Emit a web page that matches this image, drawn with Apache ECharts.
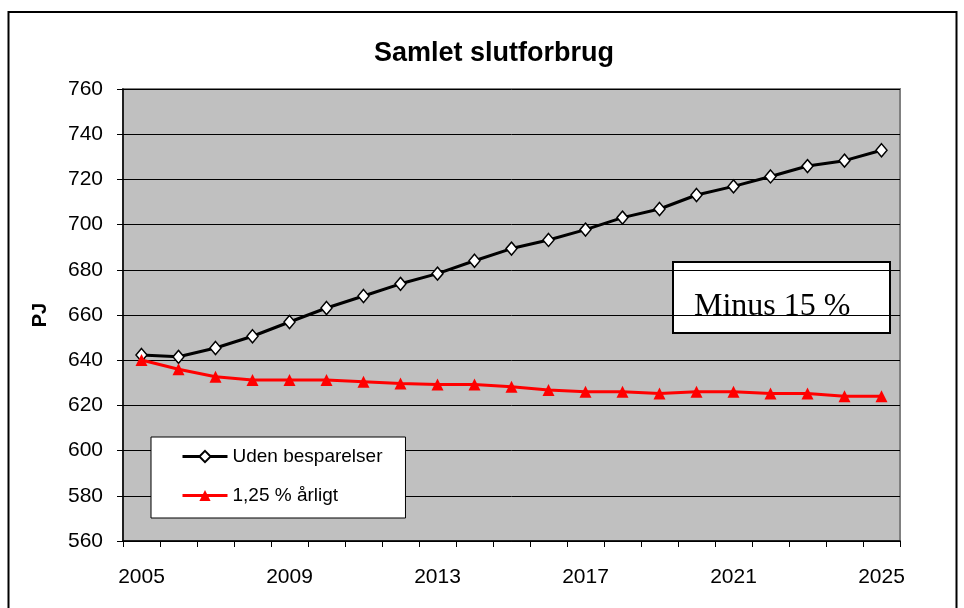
<!DOCTYPE html>
<html>
<head>
<meta charset="utf-8">
<script src="https://cdn.jsdelivr.net/npm/echarts@6/dist/echarts.min.js"></script>
<style>
  html, body { margin: 0; padding: 0; background: #fff; }
  #chart { width: 964px; height: 608px; }
</style>
</head>
<body>
<div id="chart"></div>
<script>
// år
const years = [
  '2005', '2006', '2007', '2008', '2009', '2010', '2011',
  '2012', '2013', '2014', '2015', '2016', '2017', '2018',
  '2019', '2020', '2021', '2022', '2023', '2024', '2025'
]
// Uden besparelser (PJ)
const udenBesparelser = [
  642.3, 641.5, 645.4, 650.6, 656.9, 663.1, 668.4,
  673.8, 678.3, 684.0, 689.4, 693.2, 697.8, 703.1,
  706.9, 713.1, 716.9, 721.3, 725.9, 728.3, 732.9
]
// 1,25 % årligt (PJ)
const aarligt = [
  640.1, 636.0, 632.7, 631.2, 631.2, 631.2, 630.5,
  629.7, 629.3, 629.3, 628.2, 626.8, 626.0, 626.0,
  625.3, 626.0, 626.0, 625.3, 625.3, 624.0, 624.0
]
const seriesNames = ['Uden besparelser', '1,25 % årligt']

const chart = echarts.init(document.getElementById('chart'))

const option = {
  animation: false,
  backgroundColor: '#fff',
  title: {
    text: 'Samlet slutforbrug',
    left: 489,
    top: 35,
    textAlign: 'center',
    textStyle: {
      fontFamily: 'Liberation Sans, Arial, sans-serif',
      fontSize: 27,
      fontWeight: 'bold',
      color: '#000'
    }
  },
  legend: {
    data: seriesNames,
    orient: 'vertical',
    left: 151,
    top: 437,
    padding: [10, 23, 13, 30],
    itemGap: 20,
    itemWidth: 45,
    itemHeight: 14,
    backgroundColor: '#fff',
    borderColor: '#000',
    borderWidth: 1,
    borderRadius: 0,
    lineStyle: { width: 3 },
    textStyle: {
      fontFamily: 'Liberation Sans, Arial, sans-serif',
      fontSize: 19,
      color: '#000'
    }
  },
  grid: {
    left: 123,
    right: 64,
    top: 89,
    bottom: 67,
    show: true,
    backgroundColor: '#c0c0c0',
    borderColor: '#808080',
    borderWidth: 2
  },
  xAxis: {
    type: 'category',
    data: years,
    boundaryGap: true,
    axisLine: { lineStyle: { color: '#000', width: 1.5 } },
    axisTick: {
      show: true,
      interval: 0,
      length: 6,
      lineStyle: { color: '#000' }
    },
    axisLabel: {
      interval: 3,
      margin: 26,
      fontFamily: 'Liberation Sans, Arial, sans-serif',
      fontSize: 21,
      color: '#000'
    },
    splitLine: { show: false }
  },
  yAxis: {
    type: 'value',
    min: 560,
    max: 760,
    interval: 20,
    name: 'PJ',
    nameLocation: 'middle',
    nameRotate: 90,
    nameGap: 73,
    nameTextStyle: {
      fontFamily: 'Liberation Sans, Arial, sans-serif',
      fontSize: 20,
      fontWeight: 'bold',
      color: '#000'
    },
    axisLine: { show: true, lineStyle: { color: '#000', width: 1.5 } },
    axisTick: { show: true, length: 6, lineStyle: { color: '#000' } },
    axisLabel: {
      margin: 20,
      fontFamily: 'Liberation Sans, Arial, sans-serif',
      fontSize: 21,
      color: '#000'
    },
    splitLine: { lineStyle: { color: '#000', width: 1 } }
  },
  series: [
    {
      name: seriesNames[0],
      type: 'line',
      data: udenBesparelser,
      symbol: 'diamond',
      symbolSize: [11, 13],
      showAllSymbol: true,
      lineStyle: { color: '#000', width: 3 },
      itemStyle: { color: '#fff', borderColor: '#000', borderWidth: 1.5 },
      z: 3
    },
    {
      name: seriesNames[1],
      type: 'line',
      data: aarligt,
      symbol: 'triangle',
      symbolSize: 12,
      showAllSymbol: true,
      lineStyle: { color: '#ff0000', width: 3 },
      itemStyle: { color: '#ff0000', borderColor: '#ff0000', borderWidth: 0 },
      z: 3
    }
  ],
  graphic: [
    // ydre ramme
    {
      type: 'rect',
      shape: { x: 8.5, y: 12, width: 948, height: 620 },
      style: { fill: 'none', stroke: '#000', lineWidth: 2 },
      silent: true
    },
    // tekstboks
    {
      type: 'group',
      left: 672,
      top: 261,
      z: 10,
      children: [
        {
          type: 'rect',
          shape: { x: 0, y: 0, width: 217, height: 71 },
          style: { fill: '#fff', stroke: '#000', lineWidth: 2 }
        },
        {
          type: 'text',
          x: 21,
          y: 45,
          style: {
            text: 'Minus 15 %',
            font: '32px "Liberation Serif", "Times New Roman", serif',
            fill: '#000',
            textAlign: 'left',
            textVerticalAlign: 'middle'
          }
        }
      ]
    }
  ]
}

chart.setOption(option)
</script>
</body>
</html>
